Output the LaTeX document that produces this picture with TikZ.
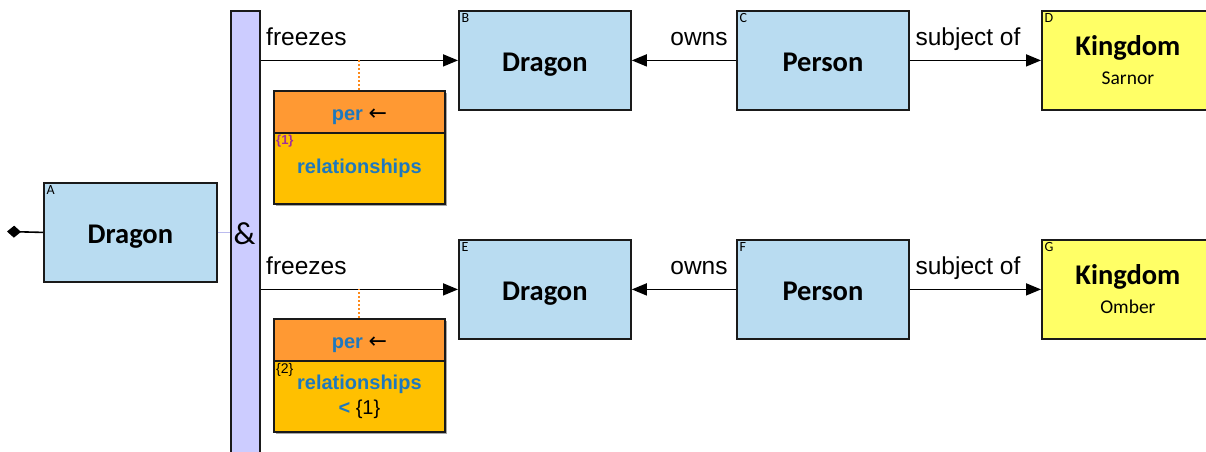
\documentclass[tikz,border=0pt]{standalone}
\usepackage{fontspec}
\setmainfont{Liberation Sans}
\newfontfamily\carl{Carlito}
\newfontfamily\dvs{DejaVu Sans}
\usetikzlibrary{arrows.meta}
\definecolor{boxblue}{HTML}{B9DCF1}
\definecolor{kyellow}{HTML}{FFFF66}
\definecolor{lav}{HTML}{CCCCFF}
\definecolor{lavline}{HTML}{BBBBEE}
\definecolor{perorange}{HTML}{FF9933}
\definecolor{relgold}{HTML}{FFC000}
\definecolor{txtblue}{HTML}{1E78BE}
\definecolor{numpurple}{HTML}{A0309A}
\definecolor{dotorange}{HTML}{FF8A1A}
\definecolor{edge}{HTML}{1A1A1A}
\begin{document}
\begin{tikzpicture}[x=1pt,y=1pt,
  basebox/.style={draw=edge, line width=1.8pt, minimum width=172pt, minimum height=99pt,
    inner sep=0pt, anchor=north west, align=center, font=\carl\bfseries\fontsize{28.5}{30}\selectfont},
  ent/.style={basebox, fill=boxblue, text height=23pt, text depth=0pt},
  kbox/.style={basebox, fill=kyellow},
  corner/.style={anchor=north west, inner sep=3.5pt, font=\carl\fontsize{14}{14}\selectfont},
  conn/.style={line width=1.6pt, draw=black, -{Triangle[length=15pt,width=12pt]}},
  lbl/.style={inner sep=0pt, font=\fontsize{24.5}{26}\selectfont},
  perbox/.style={draw=edge, line width=1.8pt, fill=perorange, minimum width=171pt, minimum height=42pt,
    inner sep=0pt, anchor=north west, text height=18pt, text depth=0pt,
    font=\bfseries\fontsize{20}{22}\selectfont\color{txtblue}},
  relbox/.style={draw=edge, line width=1.8pt, fill=relgold, minimum width=171pt, minimum height=71pt,
    inner sep=0pt, anchor=north west, align=center, font=\bfseries\fontsize{20}{25}\selectfont\color{txtblue}},
  relnum/.style={anchor=north west, inner sep=3pt, font=\fontsize{14}{14}\selectfont},
  dotline/.style={draw=dotorange, line width=2pt, dash pattern=on 2.2pt off 1.8pt},
  shadow/.style={fill=black!35}
]
\clip (0,0) rectangle (1206,-451);
\fill[white] (0,0) rectangle (1206,-451);

% shadows of the per boxes
\fill[shadow] (276,-93) rectangle (447,-206);
\fill[shadow] (276,-321) rectangle (447,-434);

% conjunction bar
\node[draw=edge, line width=1.8pt, fill=lav, minimum width=29pt, minimum height=460pt, inner sep=0pt,
  anchor=north west] (bar) at (230,-10) {};
\node[inner sep=0pt, font=\carl\fontsize{32}{32}\selectfont] (amp) at (244.5,-234) {\&};

% A
\node[ent, minimum width=173pt, label={[corner]north west:A}] (A) at (43,-182) {Dragon};
\coordinate (dia) at (7,-231.5);
\draw[line width=1.6pt, {Diamond[length=14pt,width=12pt]}-] (dia) -- (A.west);
\draw[draw=lavline, line width=1.6pt] (A.east) -- (A.east -| bar.west);

% top row
\node[ent, label={[corner]north west:B}] (B) at (458,-10) {Dragon};
\node[ent, label={[corner]north west:C}] (C) at (736,-10) {Person};
\node[kbox, label={[corner]north west:D}] (D) at (1041,-10) {Kingdom\\[-1pt]{\mdseries\fontsize{19.5}{22}\selectfont Sarnor}};
\draw[conn] (bar.east |- B.west) -- (B.west);
\draw[conn] (C.west) -- (B.east);
\draw[conn] (C.east) -- (D.west);
\node[lbl, anchor=base west] (f1) at (266,-45) {freezes};
\node[lbl, anchor=base] (o1) at (699,-45) {owns};
\node[lbl, anchor=base] (s1) at (968,-45) {subject of};

\node[perbox] (p1) at (273,-90) {per {\mdseries\dvs\color{black}\fontsize{22}{22}\selectfont ←}};
\node[relbox, label={[relnum, font=\bfseries\fontsize{13}{13}\selectfont\color{numpurple}]north west:\{1\}}] (r1) at (273,-132) {relationships};
\draw[dotline] (p1.north) -- (p1.north |- B.west);

% bottom row
\node[ent, label={[corner]north west:E}] (E) at (458,-239) {Dragon};
\node[ent, label={[corner]north west:F}] (F) at (736,-239) {Person};
\node[kbox, label={[corner]north west:G}] (G) at (1041,-239) {Kingdom\\[-1pt]{\mdseries\fontsize{19.5}{22}\selectfont Omber}};
\draw[conn] (bar.east |- E.west) -- (E.west);
\draw[conn] (F.west) -- (E.east);
\draw[conn] (F.east) -- (G.west);
\node[lbl, anchor=base west] (f2) at (266,-274) {freezes};
\node[lbl, anchor=base] (o2) at (699,-274) {owns};
\node[lbl, anchor=base] (s2) at (968,-274) {subject of};

\node[perbox] (p2) at (273,-318) {per {\mdseries\dvs\color{black}\fontsize{22}{22}\selectfont ←}};
\node[relbox, label={[relnum]north west:\{2\}}] (r2) at (273,-360) {relationships\\ < {\mdseries\color{black}\{1\}}};
\draw[dotline] (p2.north) -- (p2.north |- E.west);
\end{tikzpicture}
\end{document}
